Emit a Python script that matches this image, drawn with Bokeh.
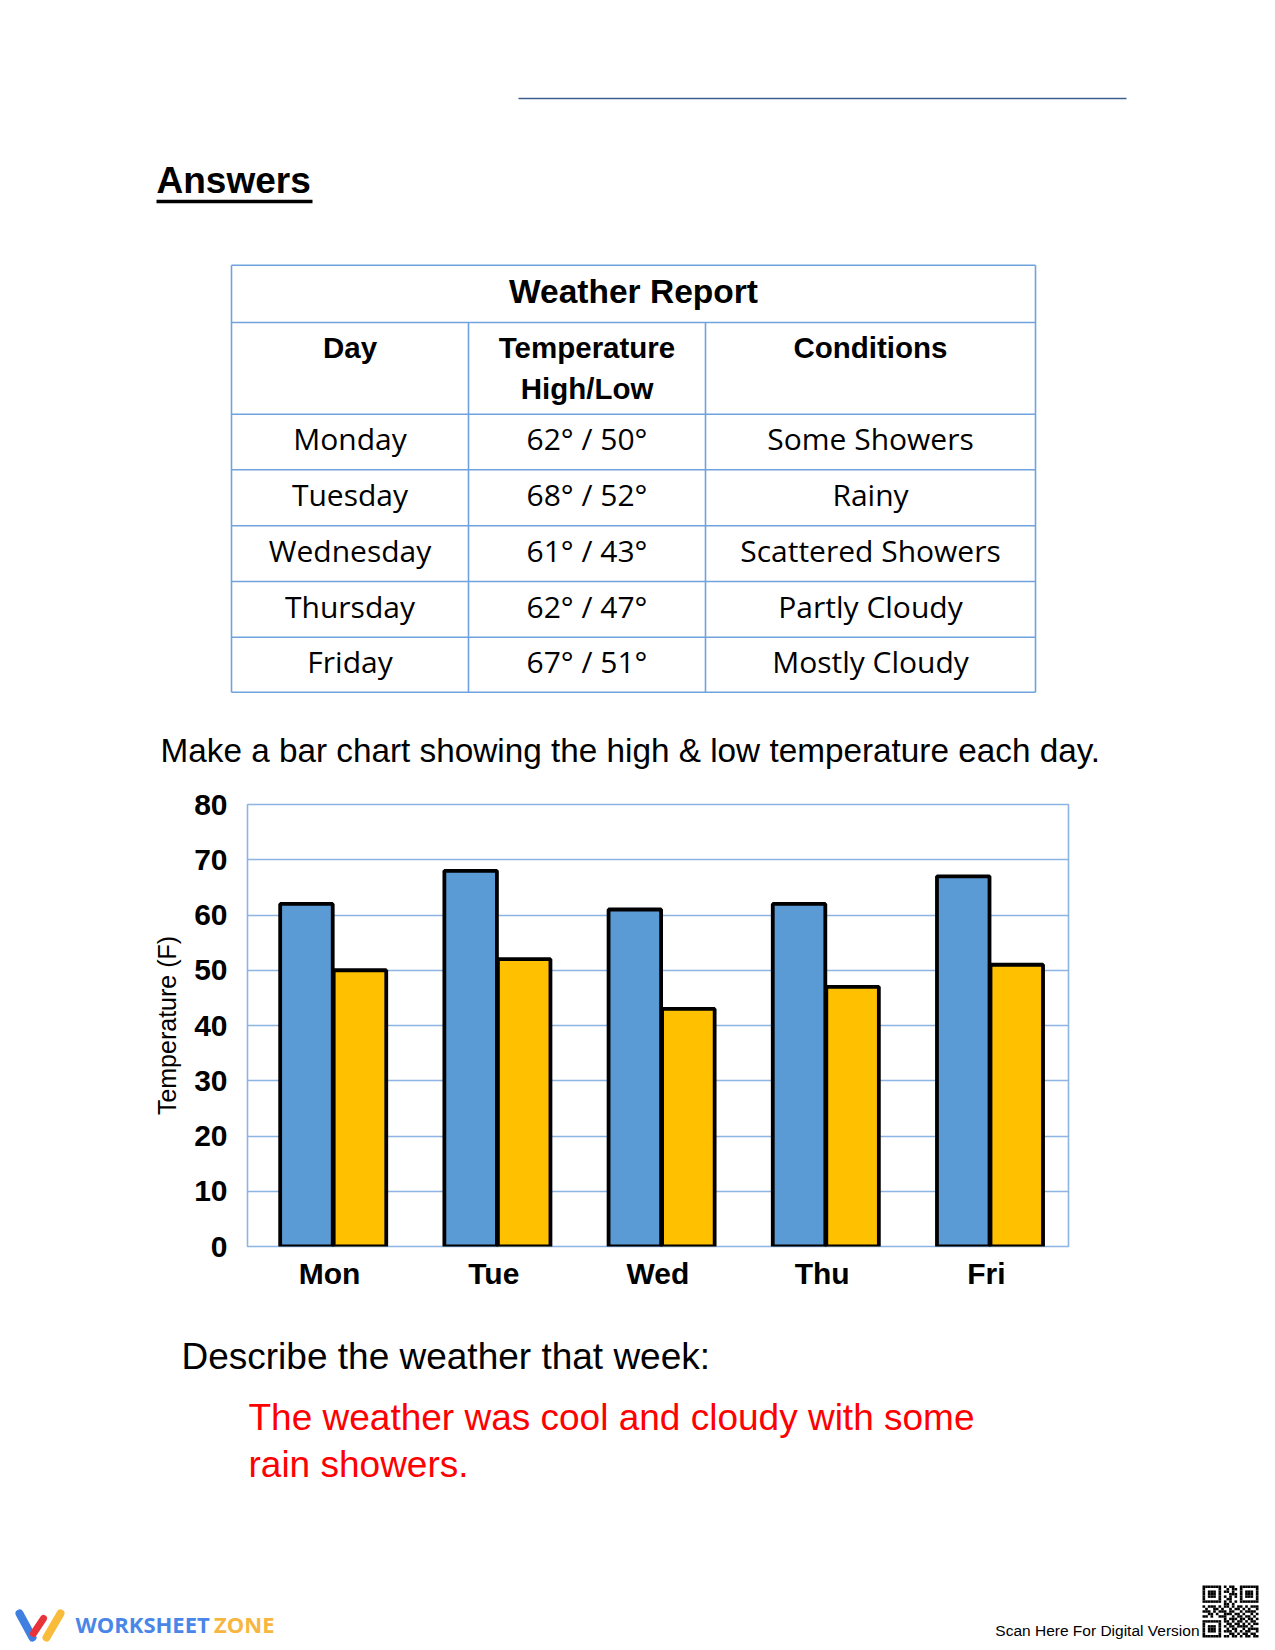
from bokeh.plotting import figure
from bokeh.layouts import column
from bokeh.models import ColumnDataSource, Range1d, FixedTicker
from bokeh.transform import dodge
from bokeh.core.properties import value
from bokeh.embed import file_html
from bokeh.resources import INLINE

# ---------------- data ----------------
days_full = ["Monday", "Tuesday", "Wednesday", "Thursday", "Friday"]
days_short = ["Mon", "Tue", "Wed", "Thu", "Fri"]
high_temps = [62, 68, 61, 62, 67]
low_temps = [50, 52, 43, 47, 51]
conditions = ["Some Showers", "Rainy", "Scattered Showers", "Partly Cloudy", "Mostly Cloudy"]
y_ticks = [0, 10, 20, 30, 40, 50, 60, 70, 80]
table_title = "Weather Report"
table_headers = ["Day", "Temperature", "High/Low", "Conditions"]
heading = "Answers"
prompt_text = "Make a bar chart showing the high & low temperature each day."
describe_text = "Describe the weather that week:"
answer_lines = ["The weather was cool and cloudy with some", "rain showers."]
y_axis_title = "Temperature (F)"

W = 1275
SANS = "Liberation Sans"
TABLE_FONT = "Open Sans"
GRID_BLUE = "#8db4e2"
TABLE_BLUE = "#6fa3dd"


def bl(y, size, k=0.37):
    # baseline correction for the svg text renderer
    return y - k * size


def no_align(f):
    try:
        f.frame_align = False
    except Exception:
        pass


def page_fig(y0, y1):
    f = figure(width=W, height=y1 - y0, x_range=Range1d(0, W), y_range=Range1d(y1, y0),
               min_border=0, x_axis_type=None, y_axis_type=None,
               toolbar_location=None, output_backend="svg", outline_line_color=None)
    f.background_fill_color = "white"
    f.border_fill_color = "white"
    no_align(f)
    return f


# ---------------- top part of page ----------------
top = page_fig(0, 780)
top.line([518, 1126], [98, 98], line_color="#3d5f8e", line_width=1.5)
top.text(x=[156], y=[bl(194, 37)], text=[heading], text_font=value(SANS), text_font_style="bold",
         text_font_size=value("37px"), text_color="black", text_baseline="alphabetic")
top.line([156, 312], [201, 201], line_color="black", line_width=3.5)

# table grid
tx = [231, 468, 705, 1035]
ty = [264.7, 322, 413.7, 469.3, 525.3, 581, 636.7, 691.7]
top.segment(x0=[tx[0]] * len(ty), x1=[tx[-1]] * len(ty), y0=ty, y1=ty,
            line_color=TABLE_BLUE, line_width=1.6)
top.segment(x0=[tx[0], tx[3]], x1=[tx[0], tx[3]], y0=[ty[0], ty[0]], y1=[ty[-1], ty[-1]],
            line_color=TABLE_BLUE, line_width=1.6)
top.segment(x0=[tx[1], tx[2]], x1=[tx[1], tx[2]], y0=[ty[1], ty[1]], y1=[ty[-1], ty[-1]],
            line_color=TABLE_BLUE, line_width=1.6)

col_c = [(tx[0] + tx[1]) / 2, (tx[1] + tx[2]) / 2, (tx[2] + tx[3]) / 2]
top.text(x=[(tx[0] + tx[3]) / 2], y=[bl(303, 33.5)], text=[table_title], text_font=value(SANS),
         text_font_style="bold", text_font_size=value("33.5px"), text_align="center",
         text_baseline="alphabetic", text_color="black")
top.text(x=[col_c[0], col_c[1], col_c[1], col_c[2]],
         y=[bl(358, 29.5), bl(358, 29.5), bl(399, 29.5), bl(358, 29.5)], text=table_headers,
         text_font=value(SANS), text_font_style="bold", text_font_size=value("29.5px"),
         text_align="center", text_baseline="alphabetic", text_color="black")

row_base = [bl((ty[i] + ty[i + 1]) / 2 + 9, 30, 0.41) for i in range(2, 7)]
temp_txt = [f"{h}\u00b0 / {l}\u00b0" for h, l in zip(high_temps, low_temps)]
for cx, texts in zip(col_c, [days_full, temp_txt, conditions]):
    top.text(x=[cx] * len(texts), y=row_base, text=texts, text_font=value(TABLE_FONT),
             text_font_size=value("30px"), text_align="center", text_baseline="alphabetic",
             text_color="black")

top.text(x=[160], y=[bl(762.5, 33.3)], text=[prompt_text], text_font=value(SANS),
         text_font_size=value("33.3px"), text_color="black", text_baseline="alphabetic")

# ---------------- bar chart ----------------
src = ColumnDataSource(data=dict(day=days_short, high=high_temps, low=low_temps))
chart = figure(width=W, height=530, x_range=days_short, y_range=Range1d(0, 80),
               min_border_left=247, min_border_right=207, min_border_top=24, min_border_bottom=64,
               toolbar_location=None, output_backend="svg")
no_align(chart)
chart.background_fill_color = "white"
chart.border_fill_color = "white"
chart.outline_line_color = GRID_BLUE
chart.outline_line_width = 1.6

chart.vbar(x=dodge("day", -0.141, range=chart.x_range), top="high", width=0.32, source=src,
           fill_color="#5b9bd5", line_color="black", line_width=3.8)
chart.vbar(x=dodge("day", 0.185, range=chart.x_range), top="low", width=0.32, source=src,
           fill_color="#ffc000", line_color="black", line_width=3.8)

chart.yaxis.ticker = FixedTicker(ticks=y_ticks)
chart.xgrid.visible = False
chart.ygrid.grid_line_color = GRID_BLUE
chart.ygrid.grid_line_width = 1.6

for ax in (chart.xaxis, chart.yaxis):
    ax.axis_line_color = None
    ax.major_tick_line_color = None
    ax.minor_tick_line_color = None
    ax.major_label_text_font = SANS
    ax.major_label_text_font_style = "bold"
    ax.major_label_text_font_size = "30px"
    ax.major_label_text_color = "black"

chart.yaxis.major_label_standoff = 14
chart.xaxis.major_label_standoff = 4
chart.yaxis.axis_label = y_axis_title
chart.yaxis.axis_label_text_font = SANS
chart.yaxis.axis_label_text_font_style = "normal"
chart.yaxis.axis_label_text_font_size = "25px"
chart.yaxis.axis_label_text_color = "black"
chart.yaxis.axis_label_standoff = 10

# ---------------- bottom part of page ----------------
bot = page_fig(1310, 1650)
bot.text(x=[181], y=[bl(1370, 37)], text=[describe_text], text_font=value(SANS),
         text_font_size=value("37px"), text_color="black", text_baseline="alphabetic")
bot.text(x=[248, 248], y=[bl(1431, 37), bl(1478, 37)], text=answer_lines, text_font=value(SANS),
         text_font_size=value("37px"), text_color="#ff0000", text_baseline="alphabetic")

# logo
bot.line([19, 32], [1613, 1637], line_color="#3f7fe0", line_width=8, line_cap="round")
bot.line([33, 43], [1633, 1618], line_color="#e8333a", line_width=7, line_cap="round")
bot.line([46, 60], [1637, 1613], line_color="#f9bc3a", line_width=8, line_cap="round")
bot.text(x=[75], y=[bl(1632, 22)], text=["WORKSHEET"], text_font=value("Open Sans"),
         text_font_style="bold", text_font_size=value("22px"), text_color="#4a86e8",
         text_baseline="alphabetic")
bot.text(x=[274], y=[bl(1632, 22)], text=["ZONE"], text_font=value("Open Sans"),
         text_font_style="bold", text_font_size=value("22px"), text_color="#f7b641",
         text_baseline="alphabetic", text_align="right")

bot.text(x=[1199], y=[bl(1636, 15.5)], text=["Scan Here For Digital Version"], text_font=value(SANS),
         text_font_size=value("15.5px"), text_color="black", text_baseline="alphabetic",
         text_align="right")

qr_rows = [
    "1111111" + "0" + "10110" + "0" + "1111111",
    "1000001" + "0" + "01011" + "0" + "1000001",
    "1011101" + "0" + "11010" + "0" + "1011101",
    "1011101" + "0" + "00111" + "0" + "1011101",
    "1011101" + "0" + "10101" + "0" + "1011101",
    "1000001" + "0" + "01100" + "0" + "1000001",
    "1111111" + "0" + "10101" + "0" + "1111111",
    "00000000" + "11010" + "00000000",
    "101110101101011010111",
    "010011010010110101001",
    "111010111011001011110",
    "001101001110110100101",
    "110100111001011011010",
    "00000000" + "1011101101101",
    "1111111" + "0" + "1101011010110",
    "1000001" + "0" + "0110110101011",
    "1011101" + "0" + "1011011110100",
    "1011101" + "0" + "0101100101111",
    "1011101" + "0" + "1110101011001",
    "1000001" + "0" + "0011010110110",
    "1111111" + "0" + "1101101011011",
]
qx0, qy0, mw, mh = 1202, 1585, 56 / 21, 52 / 21
ql, qr, qt, qb = [], [], [], []
for r, row in enumerate(qr_rows):
    row = row[:21].ljust(21, "0")
    for c, ch in enumerate(row):
        if ch == "1":
            ql.append(qx0 + c * mw)
            qr.append(qx0 + (c + 1) * mw)
            qt.append(qy0 + r * mh)
            qb.append(qy0 + (r + 1) * mh)
bot.quad(left=ql, right=qr, top=qt, bottom=qb, fill_color="black", line_color=None)

page = column(top, chart, bot, spacing=0)
open("out.html", "w").write(file_html(page, INLINE))
